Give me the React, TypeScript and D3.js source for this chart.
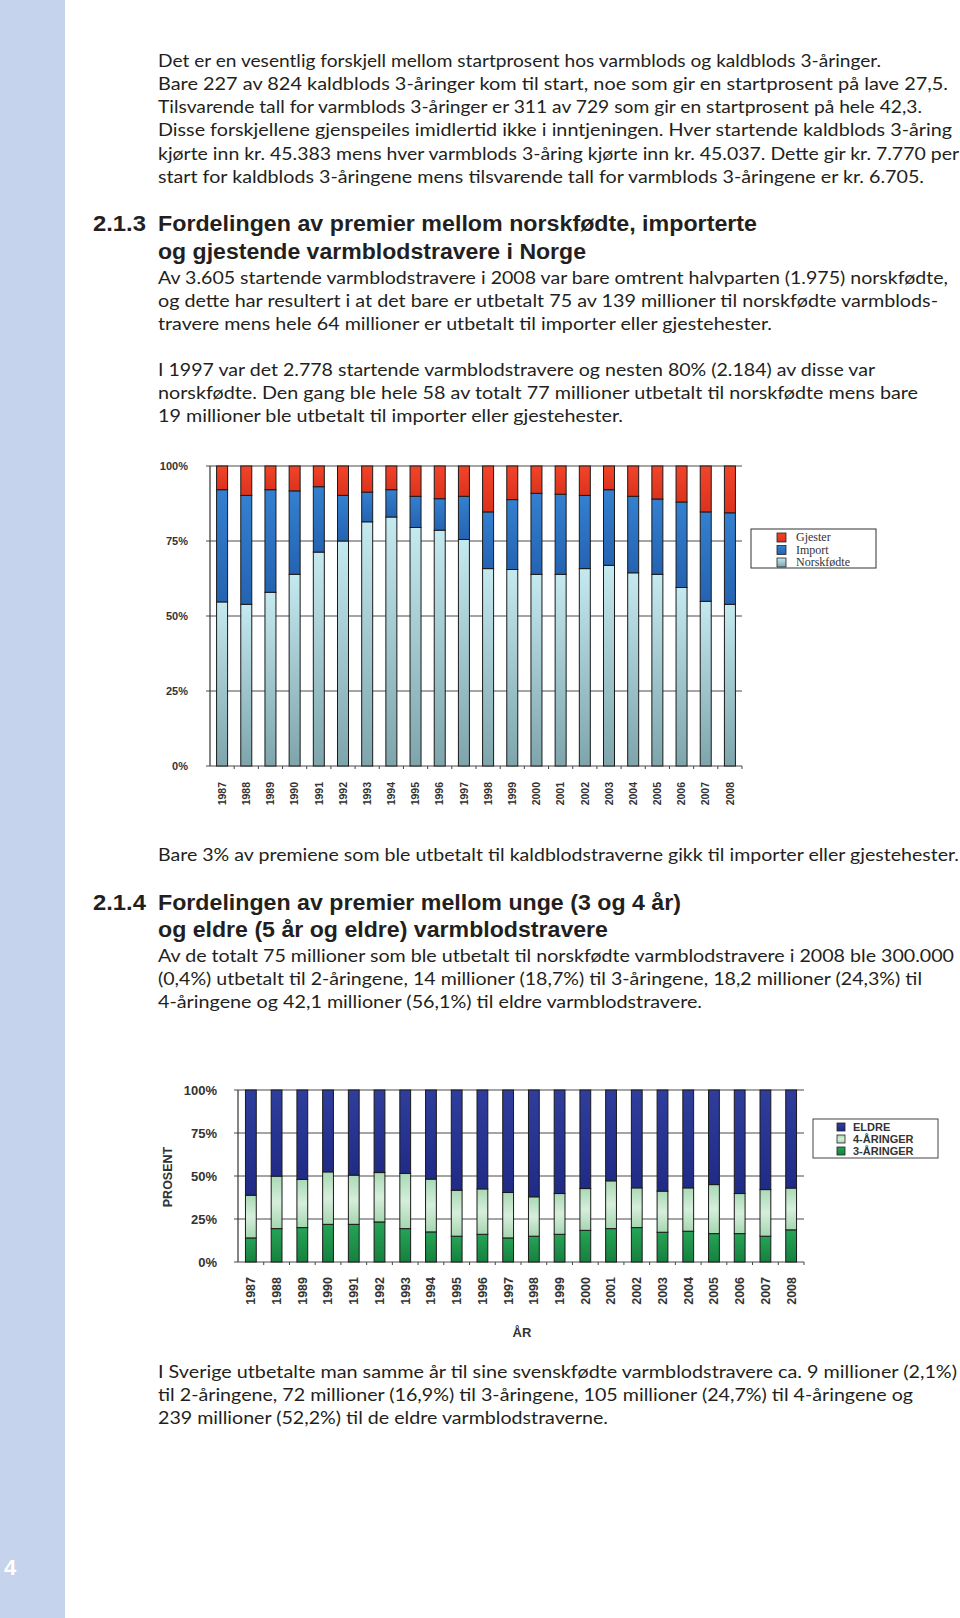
import React from "react";
import * as d3 from "d3";

// ---------- data ----------
const years = ["1987","1988","1989","1990","1991","1992","1993","1994","1995","1996","1997","1998","1999","2000","2001","2002","2003","2004","2005","2006","2007","2008"];

// Chart 1: share of prize money (%)
const norskfodte = [54.7, 53.9, 57.9, 63.9, 71.3, 75.0, 81.4, 83.0, 79.5, 78.6, 75.5, 65.8, 65.5, 63.9, 63.9, 65.8, 66.9, 64.4, 63.9, 59.5, 54.9, 53.9];
const importert = [37.4, 36.3, 34.2, 27.8, 21.8, 15.2, 9.9, 9.1, 10.4, 10.5, 14.4, 18.9, 23.3, 27.0, 26.7, 24.4, 25.2, 25.5, 25.1, 28.5, 29.8, 30.5];
const gjester = [7.9, 9.8, 7.9, 8.3, 6.9, 9.8, 8.7, 7.9, 10.1, 10.9, 10.1, 15.3, 11.2, 9.1, 9.4, 9.8, 7.9, 10.1, 11.0, 12.0, 15.3, 15.6];
const series1 = ["Norskfødte", "Import", "Gjester"];

// Chart 2: share by age group (%)
const treAringer = [14.0, 19.4, 20.0, 21.9, 21.9, 23.3, 19.4, 17.5, 15.0, 16.1, 14.0, 15.0, 16.1, 18.4, 19.4, 20.0, 17.3, 17.9, 16.5, 16.5, 15.0, 18.7];
const fireAringer = [24.8, 30.5, 28.0, 30.5, 28.6, 28.7, 32.1, 30.7, 26.7, 26.4, 26.4, 22.9, 23.7, 24.3, 27.8, 23.1, 23.9, 25.2, 28.5, 23.3, 27.1, 24.3];
const eldre = [61.2, 50.1, 52.0, 47.6, 49.5, 48.0, 48.5, 51.8, 58.3, 57.5, 59.6, 62.1, 60.2, 57.3, 52.8, 56.9, 58.8, 56.9, 55.0, 60.2, 57.9, 57.0];
const series2 = ["3-ÅRINGER", "4-ÅRINGER", "ELDRE"];

const yTicks = [0, 25, 50, 75, 100];

// ---------- text ----------
type Line = { t: string; x: number; y: number; end: number };
const bodyLines: Line[] = [
  { t: "Det er en vesentlig forskjell mellom startprosent hos varmblods og kaldblods 3-åringer.", x: 158, y: 67, end: 881 },
  { t: "Bare 227 av 824 kaldblods 3-åringer kom til start, noe som gir en startprosent på lave 27,5.", x: 158, y: 90, end: 948 },
  { t: "Tilsvarende tall for varmblods 3-åringer er 311 av 729 som gir en startprosent på hele 42,3.", x: 158, y: 113, end: 922 },
  { t: "Disse forskjellene gjenspeiles imidlertid ikke i inntjeningen. Hver startende kaldblods 3-åring", x: 158, y: 136, end: 952 },
  { t: "kjørte inn kr. 45.383 mens hver varmblods 3-åring kjørte inn kr. 45.037. Dette gir kr. 7.770 per", x: 158, y: 160, end: 959 },
  { t: "start for kaldblods 3-åringene mens tilsvarende tall for varmblods 3-åringene er kr. 6.705.", x: 158, y: 183, end: 924 },
  { t: "Av 3.605 startende varmblodstravere i 2008 var bare omtrent halvparten (1.975) norskfødte,", x: 158, y: 284, end: 948 },
  { t: "og dette har resultert i at det bare er utbetalt 75 av 139 millioner til norskfødte varmblods-", x: 158, y: 307, end: 938 },
  { t: "travere mens hele 64 millioner er utbetalt til importer eller gjestehester.", x: 158, y: 330, end: 772 },
  { t: "I 1997 var det 2.778 startende varmblodstravere og nesten 80% (2.184) av disse var", x: 158, y: 376, end: 875 },
  { t: "norskfødte. Den gang ble hele 58 av totalt 77 millioner utbetalt til norskfødte mens bare", x: 158, y: 399, end: 918 },
  { t: "19 millioner ble utbetalt til importer eller gjestehester.", x: 158, y: 422, end: 623 },
  { t: "Bare 3% av premiene som ble utbetalt til kaldblodstraverne gikk til importer eller gjestehester.", x: 158, y: 861, end: 959 },
  { t: "Av de totalt 75 millioner som ble utbetalt til norskfødte varmblodstravere i 2008 ble 300.000", x: 158, y: 962, end: 954 },
  { t: "(0,4%) utbetalt til 2-åringene, 14 millioner (18,7%) til 3-åringene, 18,2 millioner (24,3%) til", x: 158, y: 985, end: 922 },
  { t: "4-åringene og 42,1 millioner (56,1%) til eldre varmblodstravere.", x: 158, y: 1008, end: 702 },
  { t: "I Sverige utbetalte man samme år til sine svenskfødte varmblodstravere ca. 9 millioner (2,1%)", x: 158, y: 1378, end: 957 },
  { t: "til 2-åringene, 72 millioner (16,9%) til 3-åringene, 105 millioner (24,7%) til 4-åringene og", x: 158, y: 1401, end: 913 },
  { t: "239 millioner (52,2%) til de eldre varmblodstraverne.", x: 158, y: 1424, end: 608 },
];
const headLines: Line[] = [
  { t: "2.1.3", x: 93, y: 231, end: 146 },
  { t: "Fordelingen av premier mellom norskfødte, importerte", x: 158, y: 231, end: 757 },
  { t: "og gjestende varmblodstravere i Norge", x: 158, y: 259, end: 586 },
  { t: "2.1.4", x: 93, y: 910, end: 146 },
  { t: "Fordelingen av premier mellom unge (3 og 4 år)", x: 158, y: 910, end: 681 },
  { t: "og eldre (5 år og eldre) varmblodstravere", x: 158, y: 937, end: 608 },
];

const BODY_FONT = "Lato, 'Open Sans', sans-serif";
const HEAD_FONT = "'Liberation Sans Narrow', 'Liberation Sans', Arial, sans-serif";
const CHART_FONT = "'Liberation Sans', Arial, sans-serif";

function StackedChart(props: {
  data: number[][]; keys: string[]; fills: string[];
  x0: number; x1: number; yTop: number; yBot: number; pad: number;
  tickFont: number; tickRight: number; labelTop: number; labelFont: number;
}) {
  const { data, keys, fills, x0, x1, yTop, yBot, pad, tickFont, tickRight, labelTop, labelFont } = props;
  const rows = years.map((yr, i) => {
    const o: any = { year: yr };
    keys.forEach((k, j) => (o[k] = data[j][i]));
    return o;
  });
  const stacked = d3.stack<any>().keys(keys)(rows);
  const x = d3.scaleBand<string>().domain(years).range([x0, x1]).paddingInner(pad).paddingOuter(pad / 2);
  const y = d3.scaleLinear().domain([0, 100]).range([yBot, yTop]);
  const step = x.step();
  return (
    <g>
      {yTicks.map((t) => (
        <g key={t}>
          <line x1={x0 - 4} x2={x1} y1={y(t)} y2={y(t)} stroke="#4a4a4a" strokeWidth={1} />
          <text x={tickRight} y={y(t)} dy="0.35em" textAnchor="end" fontFamily={CHART_FONT} fontWeight="bold" fontSize={tickFont} fill="#333">{t}%</text>
        </g>
      ))}
      <line x1={x0} x2={x0} y1={yTop} y2={yBot} stroke="#333" strokeWidth={1.2} />
      {years.map((yr, i) => (
        <line key={"tk" + yr} x1={x0 + step * (i + 1)} x2={x0 + step * (i + 1)} y1={yBot} y2={yBot + 3} stroke="#444" />
      ))}
      {stacked.map((s, j) => (
        <g key={s.key}>
          {s.map((d: any) => (
            <rect key={d.data.year} x={x(d.data.year)} width={x.bandwidth()} y={y(d[1])} height={y(d[0]) - y(d[1])}
              fill={fills[j]} stroke="#1a1a1a" strokeWidth={1} />
          ))}
        </g>
      ))}
      {years.map((yr) => {
        const cx = (x(yr) as number) + x.bandwidth() / 2;
        return (
          <text key={"lb" + yr} transform={`translate(${cx},${labelTop}) rotate(-90)`} textAnchor="end" dy="0.35em"
            fontFamily={CHART_FONT} fontWeight="bold" fontSize={labelFont} fill="#333">{yr}</text>
        );
      })}
    </g>
  );
}

export default function App() {
  const fills1 = ["url(#gNorsk)", "url(#gImport)", "url(#gGjest)"];
  const fills2 = ["url(#g3)", "url(#g4)", "url(#gEld)"];
  const leg1 = [
    { t: "Gjester", f: "url(#gGjest)" },
    { t: "Import", f: "url(#gImport)" },
    { t: "Norskfødte", f: "url(#gNorsk)" },
  ];
  const leg2 = [
    { t: "ELDRE", f: "url(#gEld)" },
    { t: "4-ÅRINGER", f: "url(#g4)" },
    { t: "3-ÅRINGER", f: "url(#g3)" },
  ];
  return (
    <svg width={960} height={1618} style={{ position: "absolute", left: 0, top: 0, background: "#fff" }}>
      <defs>
        <linearGradient id="gNorsk" x1="0" y1="0" x2="0" y2="1">
          <stop offset="0" stopColor="#c4e9ef" />
          <stop offset="1" stopColor="#7ea5ac" />
        </linearGradient>
        <linearGradient id="gImport" x1="0" y1="0" x2="0" y2="1">
          <stop offset="0" stopColor="#3480d0" />
          <stop offset="1" stopColor="#2463b2" />
        </linearGradient>
        <linearGradient id="gGjest" x1="0" y1="0" x2="0" y2="1">
          <stop offset="0" stopColor="#f2452a" />
          <stop offset="1" stopColor="#dc321c" />
        </linearGradient>
        <linearGradient id="gEld" x1="0" y1="0" x2="0" y2="1">
          <stop offset="0" stopColor="#2f3d9c" />
          <stop offset="1" stopColor="#202b86" />
        </linearGradient>
        <linearGradient id="g4" x1="0" y1="0" x2="0" y2="1">
          <stop offset="0" stopColor="#a9d9b4" />
          <stop offset="0.5" stopColor="#d6eedb" />
          <stop offset="1" stopColor="#a6d6b0" />
        </linearGradient>
        <linearGradient id="g3" x1="0" y1="0" x2="0" y2="1">
          <stop offset="0" stopColor="#25a456" />
          <stop offset="1" stopColor="#17803e" />
        </linearGradient>
      </defs>
      <rect x={0} y={0} width={960} height={1618} fill="#fff" />
      <rect x={0} y={0} width={65} height={1618} fill="#c6d3ec" />
      <text x={4} y={1575} fontFamily={CHART_FONT} fontWeight="bold" fontSize={22} fill="#fff">4</text>

      {bodyLines.map((l, i) => (
        <text key={"b" + i} x={l.x} y={l.y} fontFamily={BODY_FONT} fontSize={17.5} fill="#231f20"
          textLength={l.end - l.x} lengthAdjust="spacingAndGlyphs">{l.t}</text>
      ))}
      {headLines.map((l, i) => (
        <text key={"h" + i} x={l.x} y={l.y} fontFamily={HEAD_FONT} fontWeight="bold" fontSize={22} fill="#231f20"
          textLength={l.end - l.x} lengthAdjust="spacingAndGlyphs">{l.t}</text>
      ))}

      {/* Chart 1 */}
      <StackedChart data={[norskfodte, importert, gjester]} keys={series1} fills={fills1}
        x0={210} x1={742} yTop={466} yBot={766} pad={0.545}
        tickFont={11} tickRight={188} labelTop={782} labelFont={10.5} />
      <g>
        <rect x={751} y={529} width={125} height={39} fill="#fff" stroke="#333" strokeWidth={1} />
        {leg1.map((l, i) => (
          <g key={l.t}>
            <rect x={777} y={533 + i * 12.5} width={9} height={9} fill={l.f} stroke="#222" strokeWidth={0.8} />
            <text x={796} y={541 + i * 12.5} fontFamily="'Liberation Serif', 'DejaVu Serif', serif" fontSize={12} fill="#333">{l.t}</text>
          </g>
        ))}
      </g>

      {/* Chart 2 */}
      <StackedChart data={[treAringer, fireAringer, eldre]} keys={series2} fills={fills2}
        x0={238} x1={804} yTop={1090} yBot={1262} pad={0.58}
        tickFont={13} tickRight={217} labelTop={1277} labelFont={12.5} />
      <text transform="translate(168,1177) rotate(-90)" textAnchor="middle" dy="0.35em" fontFamily={CHART_FONT}
        fontWeight="bold" fontSize={12.5} fill="#333">PROSENT</text>
      <text x={522} y={1332} textAnchor="middle" dy="0.35em" fontFamily={CHART_FONT} fontWeight="bold" fontSize={13} fill="#333">ÅR</text>
      <g>
        <rect x={813} y={1119} width={125} height={39} fill="#fff" stroke="#444" strokeWidth={1} />
        {leg2.map((l, i) => (
          <g key={l.t}>
            <rect x={837} y={1123 + i * 12} width={8} height={8} fill={l.f} stroke="#222" strokeWidth={0.8} />
            <text x={853} y={1131 + i * 12} fontFamily={CHART_FONT} fontWeight="bold" fontSize={11} fill="#333">{l.t}</text>
          </g>
        ))}
      </g>
    </svg>
  );
}
